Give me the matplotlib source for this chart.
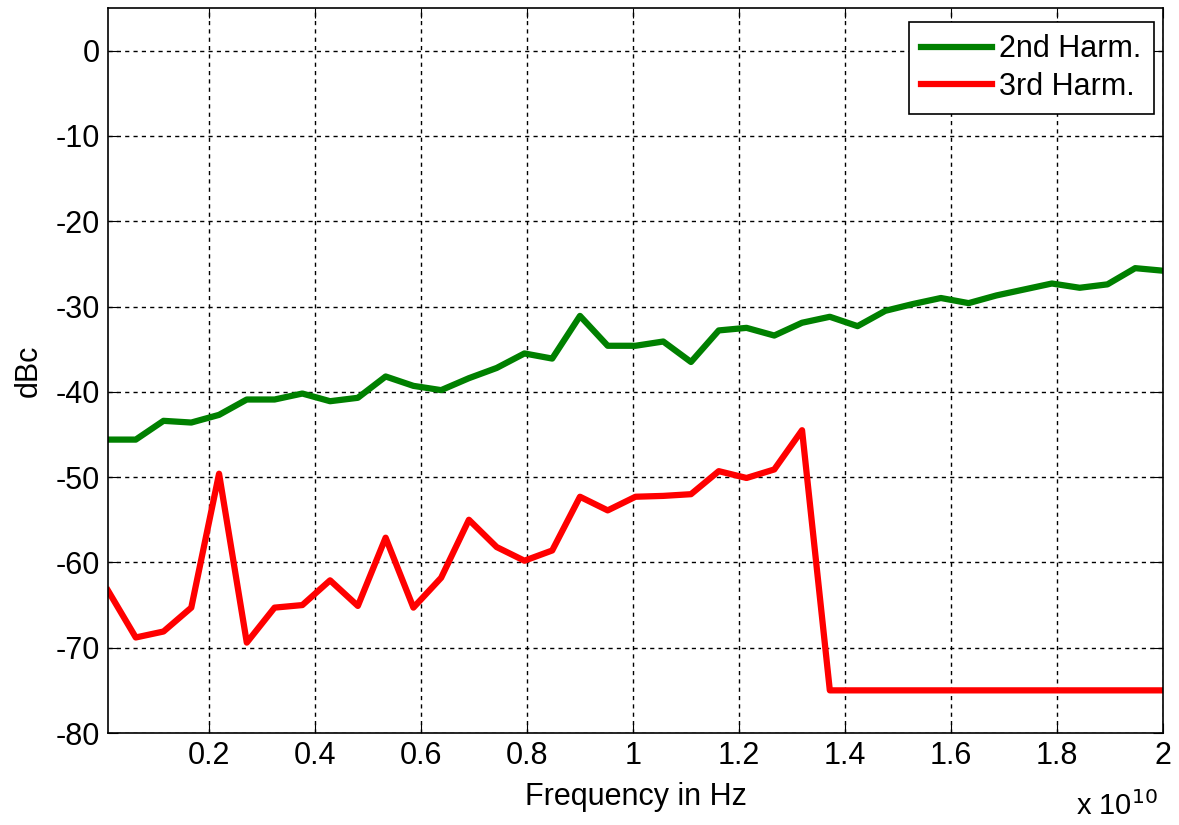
import matplotlib.pyplot as plt
from matplotlib.ticker import FuncFormatter

plt.rcParams['font.family'] = ['Liberation Sans', 'DejaVu Sans']
plt.rcParams['axes.unicode_minus'] = False

# frequency in units of 1e10 Hz
freq = [0.010, 0.0624, 0.1147, 0.1671, 0.2195, 0.2718, 0.3242, 0.3766, 0.4289, 0.4813,
        0.5337, 0.5861, 0.6384, 0.6908, 0.7432, 0.7955, 0.8479, 0.9003, 0.9526, 1.0050,
        1.0574, 1.1097, 1.1621, 1.2145, 1.2668, 1.3192, 1.3716, 1.4239, 1.4763, 1.5287,
        1.5811, 1.6334, 1.6858, 1.7382, 1.7905, 1.8429, 1.8953, 1.9476, 2.0000]

harm2 = [-45.6, -45.6, -43.4, -43.6, -42.7, -40.9, -40.9, -40.2, -41.1, -40.7,
         -38.2, -39.3, -39.8, -38.4, -37.2, -35.5, -36.1, -31.1, -34.6, -34.6,
         -34.1, -36.5, -32.8, -32.5, -33.4, -31.9, -31.2, -32.3, -30.5, -29.7,
         -29.0, -29.6, -28.7, -28.0, -27.3, -27.8, -27.4, -25.5, -25.8]

harm3 = [-63.3, -68.8, -68.1, -65.3, -49.6, -69.4, -65.3, -65.0, -62.1, -65.1,
         -57.1, -65.3, -61.8, -55.0, -58.2, -59.8, -58.6, -52.3, -53.9, -52.3,
         -52.2, -52.0, -49.3, -50.1, -49.1, -44.5, -75.0, -75.0, -75.0, -75.0,
         -75.0, -75.0, -75.0, -75.0, -75.0, -75.0, -75.0, -75.0, -75.0]

freq_hz = [f * 1e10 for f in freq]

fig = plt.figure(figsize=(11.79, 8.25), dpi=100)
ax = fig.add_axes([0.0916, 0.1115, 0.8948, 0.8788])

ax.plot(freq_hz, harm2, color='#008000', lw=4.5, label='2nd Harm.')
ax.plot(freq_hz, harm3, color='#ff0000', lw=4.5, label='3rd Harm.')

ax.set_xlim(0.01e10, 2e10)
ax.set_ylim(-80, 5)
ax.set_xticks([0.2e10 * i for i in range(1, 11)])
ax.set_yticks(range(-80, 1, 10))
ax.xaxis.set_major_formatter(FuncFormatter(lambda v, p: ('%g' % (v / 1e10))))

ax.grid(True, color='black', linestyle=(0, (3, 3)), lw=1)
ax.tick_params(direction='in', length=7, top=True, right=True, labelsize=22, pad=6)
for s in ax.spines.values():
    s.set_linewidth(1.2)

ax.set_xlabel('Frequency in Hz', fontsize=22, labelpad=8)
ax.set_ylabel('dBc', fontsize=22, labelpad=8)
fig.text(0.913, 0.012, r'x 10$^{10}$', fontsize=21)

leg = ax.legend(loc='upper right', bbox_to_anchor=(1, 0.993), fontsize=22,
                fancybox=False, framealpha=1, edgecolor='black',
                handlelength=2.3, handletextpad=0.25,
                borderpad=0.4, labelspacing=0.25, borderaxespad=0.3)
leg.get_frame().set_linewidth(1.2)

fig.savefig('out.png', dpi=100)
